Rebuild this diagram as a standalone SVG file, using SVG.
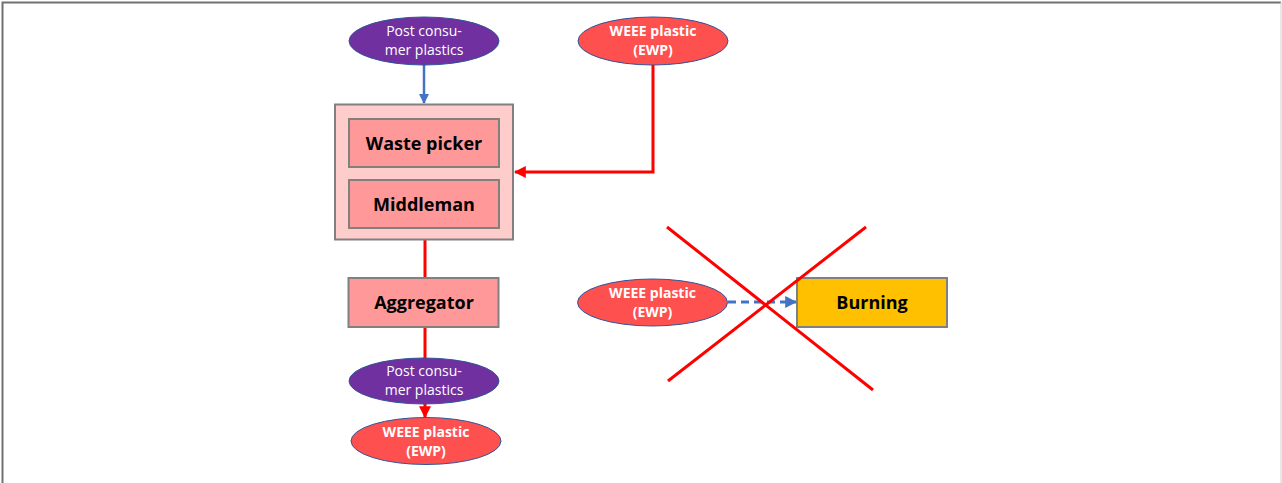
<svg xmlns="http://www.w3.org/2000/svg" width="1282" height="483" viewBox="0 0 1282 483">
<defs>
<style>
.pur{fill:#7030a0;stroke:#2f5597;stroke-width:1}
.red{fill:#ff5050;stroke:#2f5597;stroke-width:1}
.box{fill:#ff9999;stroke:#808080;stroke-width:2}
.et{font-family:"Open Sans","Liberation Sans",sans-serif;font-size:14px;fill:#ffffff;text-anchor:middle}
.eb{font-weight:bold}
.bt{font-family:"Open Sans","Liberation Sans",sans-serif;font-size:18px;font-weight:bold;fill:#000000;text-anchor:middle}
.rl{stroke:#ff0000;stroke-width:3;fill:none}
</style>
<marker id="ah-red" viewBox="0 0 10 10" refX="9" refY="5" markerWidth="4" markerHeight="4" orient="auto"><path d="M0,0L10,5L0,10z" fill="#ff0000"/></marker>
<marker id="ah-blue" viewBox="0 0 10 10" refX="9" refY="5" markerWidth="4" markerHeight="4" orient="auto"><path d="M0,0L10,5L0,10z" fill="#4472c4"/></marker>
</defs>
<rect x="0" y="0" width="1282" height="483" fill="#ffffff"/>
<path d="M2.5,483V2.5H1281" fill="none" stroke="#707070" stroke-width="2"/>
<path d="M1281,2V483" fill="none" stroke="#d0d0d0" stroke-width="1"/>

<g id="connectors">
<path d="M424,65V103" stroke="#4472c4" stroke-width="2.5" fill="none" marker-end="url(#ah-blue)"/>
<path class="rl" d="M653,65V172H515" marker-end="url(#ah-red)"/>
<path class="rl" d="M425,239V278"/>
<path class="rl" d="M425,327V417" marker-end="url(#ah-red)"/>
<path d="M728,302H796" stroke="#4472c4" stroke-width="3" stroke-dasharray="8,5" fill="none" marker-end="url(#ah-blue)"/>
</g>

<g id="pcp-top">
<ellipse class="pur" cx="424" cy="41" rx="75" ry="24"/>
<text class="et" x="424" y="36">Post consu-</text>
<text class="et" x="424" y="55">mer plastics</text>
</g>
<g id="weee-top">
<ellipse class="red" cx="653" cy="41" rx="75" ry="24"/>
<text class="et eb" x="653" y="36">WEEE plastic</text>
<text class="et eb" x="653" y="55">(EWP)</text>
</g>
<g id="collector">
<rect x="335" y="104.5" width="178" height="135" fill="#ffcccc" stroke="#808080" stroke-width="2"/>
</g>
<g id="waste-picker">
<rect class="box" x="349" y="119" width="150" height="48"/>
<text class="bt" x="424" y="150">Waste picker</text>
</g>
<g id="middleman">
<rect class="box" x="349" y="180" width="150" height="48"/>
<text class="bt" x="424" y="211">Middleman</text>
</g>
<g id="aggregator">
<rect class="box" x="348.5" y="278" width="150" height="49"/>
<text class="bt" x="424" y="309">Aggregator</text>
</g>
<g id="pcp-bottom">
<ellipse class="pur" cx="424" cy="381" rx="75" ry="23"/>
<text class="et" x="424" y="376">Post consu-</text>
<text class="et" x="424" y="395">mer plastics</text>
</g>
<g id="weee-bottom">
<ellipse class="red" cx="426" cy="441" rx="75" ry="23.5"/>
<text class="et eb" x="426" y="437">WEEE plastic</text>
<text class="et eb" x="426" y="456">(EWP)</text>
</g>
<g id="weee-mid">
<ellipse class="red" cx="652.5" cy="302.5" rx="75" ry="23.5"/>
<text class="et eb" x="652.5" y="298">WEEE plastic</text>
<text class="et eb" x="652.5" y="317">(EWP)</text>
</g>
<g id="burning">
<rect x="797" y="278" width="150" height="49" fill="#ffc000" stroke="#808080" stroke-width="2"/>
<text class="bt" x="872" y="309">Burning</text>
</g>
<g id="cross">
<path class="rl" d="M667,227L873,390"/>
<path class="rl" d="M866,227L668,381"/>
</g>
</svg>
